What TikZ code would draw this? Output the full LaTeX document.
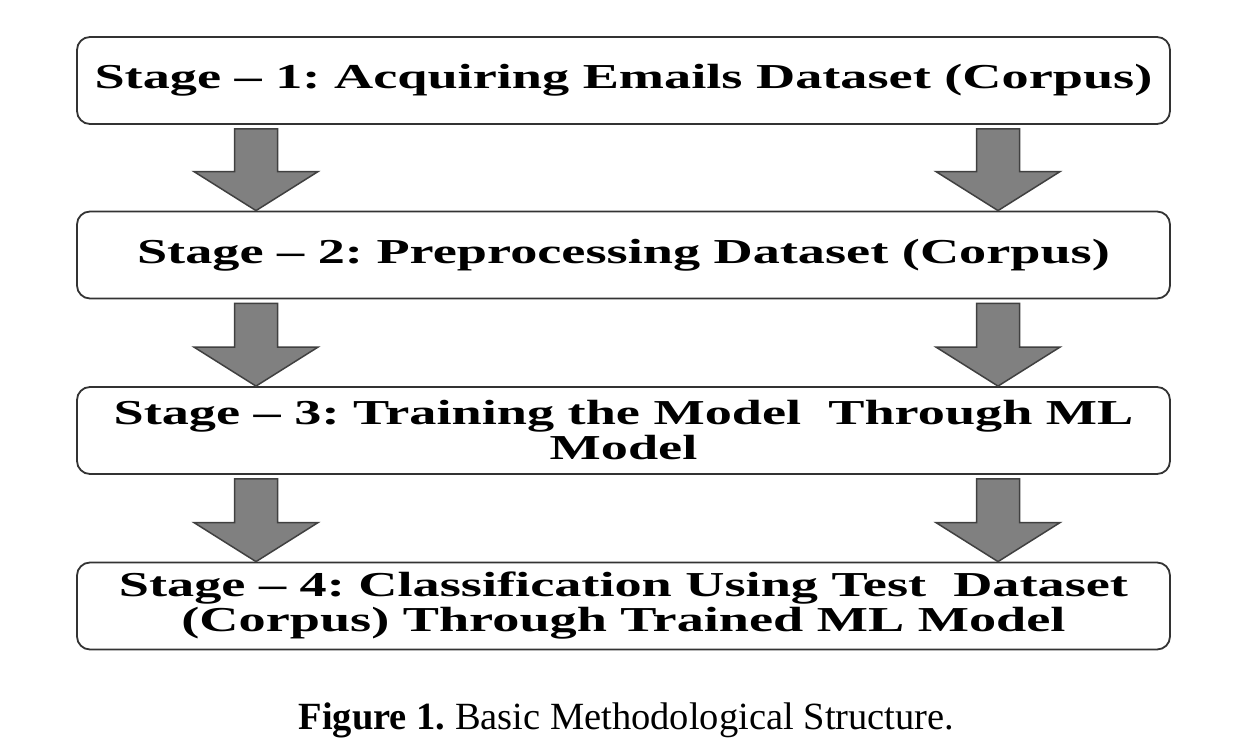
\documentclass[tikz,border=0pt]{standalone}
\usepackage{fontspec}
\setmainfont{Liberation Serif}
\newfontfamily\stagefont{Liberation Serif}[FakeStretch=1.55]
\usetikzlibrary{calc}

\tikzset{
  stagebox/.style={draw=black!80, line width=1.8pt, rounded corners=13pt,
    fill=white, minimum width=1093pt, minimum height=87pt, inner sep=0pt,
    align=center, font=\stagefont\bfseries\fontsize{35}{35}\selectfont},
  fatarrow/.style={fill=black!50, draw=black!75, line width=1.5pt, line join=miter},
}

% Broad block arrow from the bottom of one stage to the top of the next, at x = #3
\newcommand\stagearrow[3]{%
  \draw[fatarrow] let \p1=(#1.south), \p2=(#2.north) in
    ({#3pt-21.5pt},{\y1-4pt}) -- ({#3pt+21.5pt},{\y1-4pt})
    -- ({#3pt+21.5pt},{\y2+39pt}) -- ({#3pt+62pt},{\y2+39pt})
    -- ({#3pt},{\y2}) -- ({#3pt-62pt},{\y2+39pt})
    -- ({#3pt-21.5pt},{\y2+39pt}) -- cycle;}

\frenchspacing
\begin{document}
\begin{tikzpicture}[x=1pt,y=1pt]
  \useasboundingbox[fill=white] (0,0) rectangle (1246,750);

  \node[stagebox] (s1) at (623.5,669.5) {Stage – 1: Acquiring Emails Dataset (Corpus)};
  \node[stagebox] (s2) at (623.5,495) {Stage – 2: Preprocessing Dataset (Corpus)};
  \node[stagebox] (s3) at (623.5,319.5) {Stage – 3: Training the Model~~Through ML\\Model};
  \node[stagebox] (s4) at (623.5,144) {Stage – 4: Classification Using Test~~Dataset\\(Corpus) Through Trained ML Model};

  \stagearrow{s1}{s2}{256}
  \stagearrow{s1}{s2}{998}
  \stagearrow{s2}{s3}{256}
  \stagearrow{s2}{s3}{998}
  \stagearrow{s3}{s4}{256}
  \stagearrow{s3}{s4}{998}

  \node (cap) [font=\fontsize{38.5}{40}\selectfont, anchor=base] at (626.5,21)
    {\textbf{Figure 1.} Basic Methodological Structure.};
\end{tikzpicture}
\end{document}
